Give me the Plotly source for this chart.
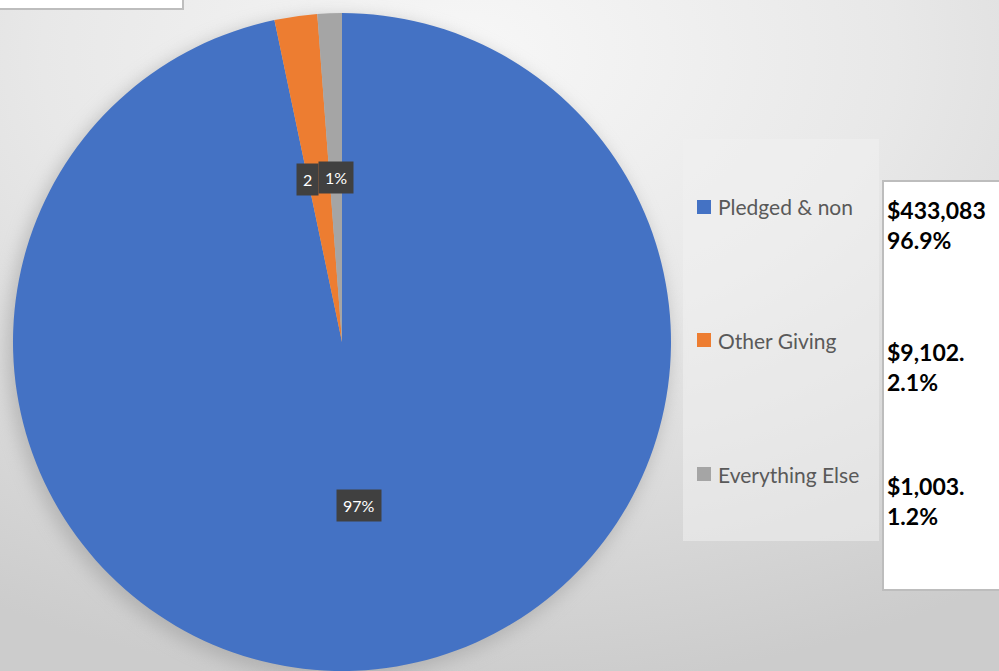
import math
import urllib.parse
import plotly.graph_objects as go

categories = ["Pledged & non", "Other Giving", "Everything Else"]
shares = [96.9, 2.1, 1.2]
slice_labels = ["97%", "2", "1%"]  # the 2% label is shown truncated to "2" in the reference
amount_labels = ["$433,083", "$9,102.", "$1,003."]
percent_labels = ["96.9%", "2.1%", "1.2%"]
colors = ["#4472C4", "#ED7D31", "#A5A5A5"]

W, H = 999, 671
CX, CY, R = 342, 342, 329
FONT = "Lato, Open Sans, sans-serif"
label_anchor = ["center", "right", "center"]


def px(x):
    return x / W


def py(y):
    return min(1.0, max(0.0, 1 - y / H))


bg_svg = f"""<svg xmlns='http://www.w3.org/2000/svg' width='{W}' height='{H}'>
<defs>
<radialGradient id='g' cx='0.47' cy='0.08' r='0.95'>
<stop offset='0' stop-color='#f7f7f7'/>
<stop offset='0.45' stop-color='#e8e8e8'/>
<stop offset='1' stop-color='#cccccc'/>
</radialGradient>
<filter id='b' x='-20%' y='-20%' width='140%' height='140%'><feGaussianBlur stdDeviation='9'/></filter>
</defs>
<rect width='{W}' height='{H}' fill='url(#g)'/>
<circle cx='{CX - 4}' cy='{CY + 6}' r='{R + 2}' fill='#9a9a9a' opacity='0.55' filter='url(#b)'/>
</svg>"""
bg_uri = "data:image/svg+xml;charset=utf-8," + urllib.parse.quote(bg_svg)

fig = go.Figure()
fig.add_trace(go.Pie(
    labels=categories,
    values=shares,
    marker=dict(colors=colors, line=dict(width=0)),
    sort=False,
    direction="clockwise",
    rotation=0,
    textinfo="none",
    hoverinfo="label+percent",
    showlegend=False,
    domain=dict(x=[px(CX - R), px(CX + R)], y=[py(CY + R), py(CY - R)]),
))

shapes = []
annotations = []

# slice labels computed from cumulative shares
total = sum(shares)
cum = 0.0
for i, v in enumerate(shares):
    mid = (cum + v / 2) / total * 2 * math.pi
    cum += v
    lx = CX + 0.5 * R * math.sin(mid)
    ly = CY - 0.5 * R * math.cos(mid)
    annotations.append(dict(
        x=lx / W, y=1 - ly / H, xref="paper", yref="paper",
        xanchor=label_anchor[i], yanchor="middle",
        text=slice_labels[i], showarrow=False,
        font=dict(family=FONT, size=16, color="white"),
        bgcolor="#404040", borderpad=6,
    ))

# legend panel
shapes.append(dict(type="rect", xref="paper", yref="paper",
                   x0=px(683), x1=px(879), y0=py(541), y1=py(139),
                   fillcolor="rgba(240,240,240,0.55)", line=dict(width=0), layer="below"))
# right value box
shapes.append(dict(type="rect", xref="paper", yref="paper",
                   x0=883 / W, x1=1005 / W, y0=1 - 590 / H, y1=1 - 181 / H,
                   fillcolor="white", line=dict(color="#bdbdbd", width=2)))
# top-left box
shapes.append(dict(type="rect", xref="paper", yref="paper",
                   x0=-5 / W, x1=183 / W, y0=1 - 9 / H, y1=1 + 5 / H,
                   fillcolor="white", line=dict(color="#bdbdbd", width=2)))

legend_y = [207, 340, 474]
value_y = [225, 367, 501]
for i, cat in enumerate(categories):
    y = legend_y[i]
    shapes.append(dict(type="rect", xref="paper", yref="paper",
                       x0=px(697), x1=px(711), y0=py(y + 7), y1=py(y - 7),
                       fillcolor=colors[i], line=dict(width=0)))
    annotations.append(dict(
        x=px(716), y=py(y), xref="paper", yref="paper", xanchor="left", yanchor="middle",
        text=cat, showarrow=False,
        font=dict(family=FONT, size=21, color="#595959"),
    ))
    annotations.append(dict(
        x=px(885), y=py(value_y[i]), xref="paper", yref="paper", xanchor="left", yanchor="middle",
        text=f"<b>{amount_labels[i]}</b><br><b>{percent_labels[i]}</b>", showarrow=False, align="left",
        font=dict(family=FONT, size=23, color="black"),
    ))

fig.update_layout(
    width=W, height=H,
    margin=dict(l=0, r=0, t=0, b=0),
    paper_bgcolor="#e0e0e0",
    plot_bgcolor="rgba(0,0,0,0)",
    images=[dict(source=bg_uri, xref="paper", yref="paper", x=0, y=1,
                 sizex=1, sizey=1, sizing="stretch", layer="below",
                 xanchor="left", yanchor="top")],
    shapes=shapes,
    annotations=annotations,
    showlegend=False,
)

fig.write_html(
    "out.html",
    config={"displayModeBar": False},
    post_script="document.body.style.margin='0';document.body.style.overflow='hidden';",
)
